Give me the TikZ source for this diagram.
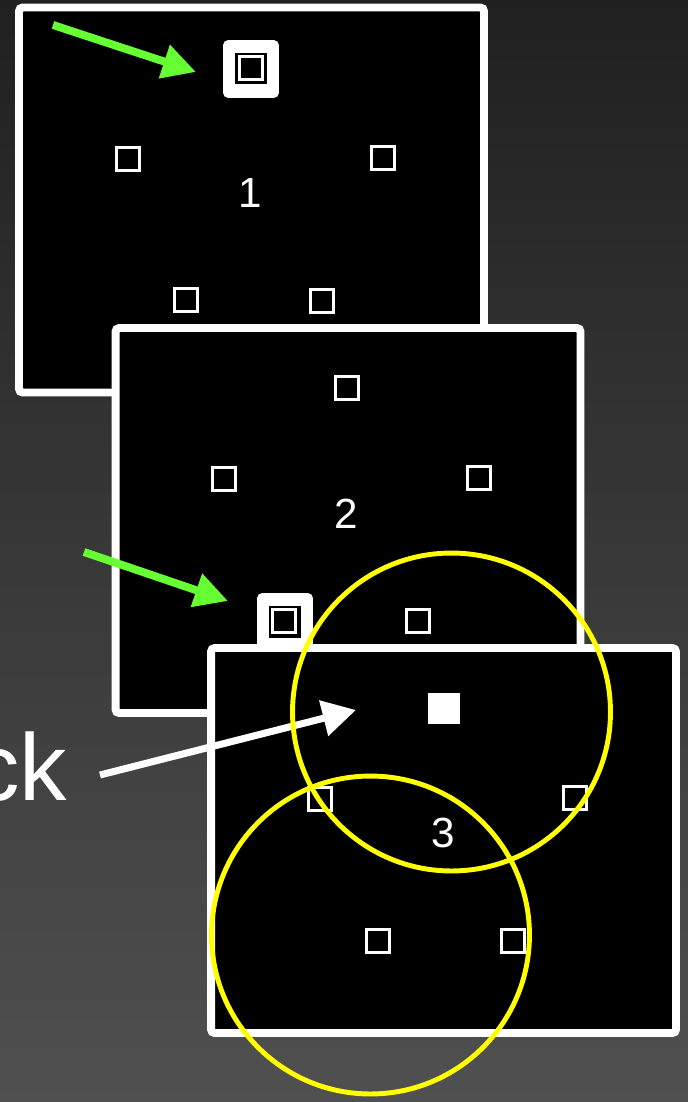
\documentclass[tikz,border=0pt]{standalone}
\usepackage{fontspec}
\setmainfont{Liberation Sans}
\usetikzlibrary{arrows.meta}
\definecolor{bgtop}{HTML}{202020}
\definecolor{bgbot}{HTML}{505050}
\definecolor{pointer}{HTML}{66FF33}
\definecolor{ringcol}{HTML}{FFFF00}

\begin{document}
\begin{tikzpicture}[x=0.02cm,y=-0.02cm,
panel/.style={draw=white,fill=black,line width=4.5pt,rounded corners=2pt,
minimum width=9.3cm,minimum height=7.7cm,inner sep=0},
spot/.style={draw=white,line width=1.7pt,minimum size=0.46cm,inner sep=0},
solid/.style={fill=white,minimum size=0.63cm,inner sep=0},
halo/.style={fill=white,rounded corners=3pt,minimum width=1.12cm,
minimum height=1.16cm,inner sep=0},
hole/.style={fill=black,minimum size=0.64cm,inner sep=0},
num/.style={text=white,font=\fontsize{24}{28}\selectfont,inner sep=0},
green/.style={draw=pointer,line width=4.5pt,-{Triangle[length=19pt,width=19pt]}},
ring/.style={circle,draw=ringcol,line width=2.8pt,minimum size=6.36cm,inner sep=0}]
\shade[top color=bgtop,bottom color=bgbot] (0,0) rectangle (688,1102);
\useasboundingbox (0,0) rectangle (688,1102);
% frame 1
\node[panel] (frame1) at (251.5,200) {};
\node[halo] (halo1) at (251,69) {};
\node[hole] at (250.5,68.5) {};
\node[spot] (s1a) at (251,68) {};
\node[spot] (s1b) at (128,159) {};
\node[spot] (s1c) at (383,158) {};
\node[spot] (s1d) at (186,300) {};
\node[spot] (s1e) at (322,301) {};
\node[num] (n1) at (250,193) {1};
\coordinate (g1) at (53,25);
\coordinate (g1tip) at (196,72);
\draw[green] (g1)--(g1tip);
% frame 2
\node[panel] (frame2) at (348,520.5) {};
\node[halo] (halo2) at (285,622) {};
\node[hole] at (284.5,622) {};
\node[spot] (s2a) at (347,388) {};
\node[spot] (s2b) at (224,479) {};
\node[spot] (s2c) at (479,478) {};
\node[spot] (s2d) at (284,621) {};
\node[spot] (s2e) at (418,621) {};
\node[num] (n2) at (346,514) {2};
\coordinate (g2) at (84,552);
\coordinate (g2tip) at (228,601);
\draw[green] (g2)--(g2tip);
% frame 3
\node[panel] (frame3) at (443.5,840.5) {};
\node[solid] (s3a) at (444,708.5) {};
\node[spot] (s3b) at (320,799) {};
\node[spot] (s3c) at (575,798) {};
\node[spot] (s3d) at (378,941) {};
\node[spot] (s3e) at (513,941) {};
\node[num] (n3) at (443,833) {3};
% click pointer
\node[anchor=base west,inner sep=0,text=white,
font=\fontsize{54}{60}\selectfont] (word) at (-28,800) {ck};
\coordinate (w0) at (100,775);
\coordinate (wtip) at (356,710);
\draw[white,line width=4pt,-{Triangle[length=19pt,width=20pt]}] (w0)--(wtip);
% yellow zones
\node[ring] (zone1) at (451.5,712) {};
\node[ring] (zone2) at (370.5,935) {};
\end{tikzpicture}
\end{document}
